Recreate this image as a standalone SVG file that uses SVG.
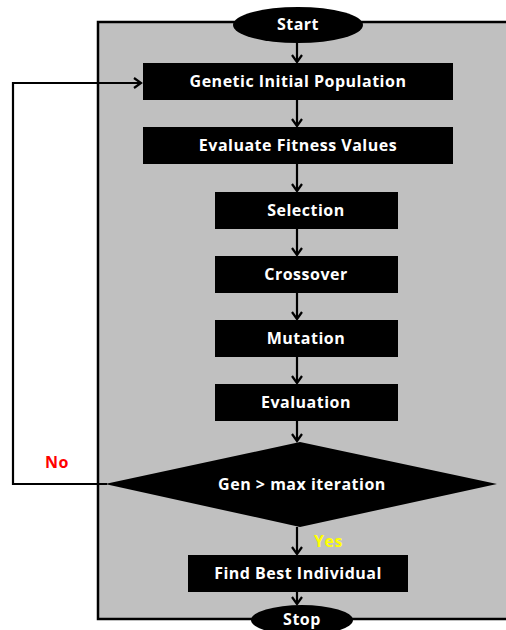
<svg xmlns="http://www.w3.org/2000/svg" width="506" height="630" viewBox="0 0 506 630">
<defs>
<marker id="ah" markerWidth="12" markerHeight="12" refX="10" refY="6" orient="auto" markerUnits="userSpaceOnUse">
<polyline points="3,1 10,6 3,11" fill="none" stroke="#000" stroke-width="2.2"/>
</marker>
<style>
.box{fill:#000;}
.t{fill:#fff;font-family:"Open Sans","Liberation Sans",Arial,sans-serif;font-weight:bold;font-size:16px;letter-spacing:0.5px;text-anchor:middle;dominant-baseline:central;}
.c{fill:none;stroke:#000;stroke-width:2.2;}
.lbl{font-family:"Open Sans","Liberation Sans",Arial,sans-serif;font-weight:bold;font-size:16px;letter-spacing:0.5px;}
</style>
</defs>
<rect width="506" height="630" fill="#fff"/>
<rect x="98" y="22" width="420" height="597" fill="#c0c0c0" stroke="#000" stroke-width="2.5"/>
<g id="connectors">
<line class="c" x1="297" y1="43" x2="297" y2="62" marker-end="url(#ah)"/>
<line class="c" x1="297" y1="100" x2="297" y2="126" marker-end="url(#ah)"/>
<line class="c" x1="297" y1="164" x2="297" y2="191" marker-end="url(#ah)"/>
<line class="c" x1="297" y1="229" x2="297" y2="255" marker-end="url(#ah)"/>
<line class="c" x1="297" y1="293" x2="297" y2="319" marker-end="url(#ah)"/>
<line class="c" x1="297" y1="357" x2="297" y2="383" marker-end="url(#ah)"/>
<line class="c" x1="297" y1="421" x2="297" y2="441" marker-end="url(#ah)"/>
<line class="c" x1="297" y1="527" x2="297" y2="554" marker-end="url(#ah)"/>
<line class="c" x1="297" y1="592" x2="297" y2="604" marker-end="url(#ah)"/>
<polyline class="c" points="107,484 13,484 13,83 141,83" marker-end="url(#ah)"/>
</g>
<g id="start">
<ellipse cx="298" cy="25" rx="65" ry="18" class="box"/>
<text class="t" x="298" y="24">Start</text>
</g>
<g id="init">
<rect x="143" y="63" width="310" height="37" class="box"/>
<text class="t" x="298" y="81">Genetic Initial Population</text>
</g>
<g id="fitness">
<rect x="143" y="127" width="310" height="37" class="box"/>
<text class="t" x="298" y="145">Evaluate Fitness Values</text>
</g>
<g id="selection">
<rect x="215" y="192" width="183" height="37" class="box"/>
<text class="t" x="306" y="210">Selection</text>
</g>
<g id="crossover">
<rect x="215" y="256" width="183" height="37" class="box"/>
<text class="t" x="306" y="274">Crossover</text>
</g>
<g id="mutation">
<rect x="215" y="320" width="183" height="37" class="box"/>
<text class="t" x="306" y="338">Mutation</text>
</g>
<g id="evaluation">
<rect x="215" y="384" width="183" height="37" class="box"/>
<text class="t" x="306" y="402">Evaluation</text>
</g>
<g id="decision">
<polygon points="300,442 497,484 300,527 105,484" class="box"/>
<text class="t" x="302" y="484">Gen &gt; max iteration</text>
</g>
<g id="best">
<rect x="188" y="555" width="220" height="37" class="box"/>
<text class="t" x="298" y="573">Find Best Individual</text>
</g>
<g id="stop">
<ellipse cx="302" cy="620" rx="51" ry="15" class="box"/>
<text class="t" x="302" y="619">Stop</text>
</g>
<text class="lbl" x="45" y="468" fill="#ff0000">No</text>
<text class="lbl" x="314" y="547" fill="#ffff00">Yes</text>
</svg>
